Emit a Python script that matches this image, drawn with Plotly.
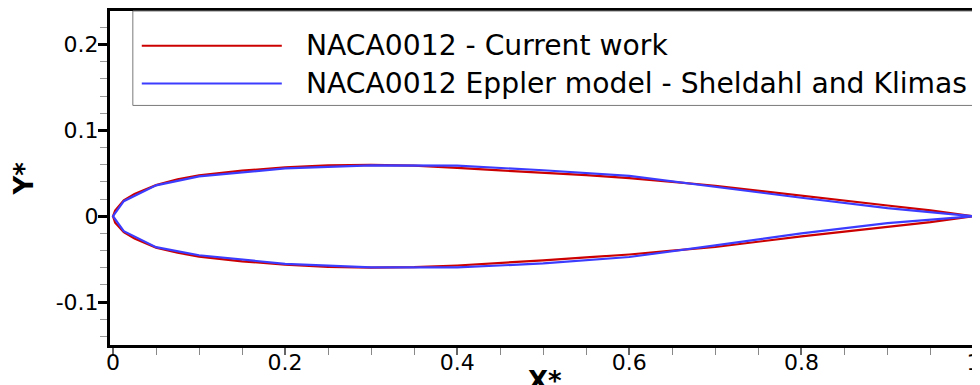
import plotly.graph_objects as go

# ---- data ----
red_x = [0.0, 0.0025, 0.0125, 0.025, 0.05, 0.075, 0.1, 0.15, 0.2, 0.25, 0.3, 0.35,
         0.4, 0.45, 0.5, 0.55, 0.6, 0.65, 0.7, 0.8, 0.9, 0.95, 1.0]
red_upper = [0.0, 0.0065, 0.0185, 0.026, 0.0362, 0.043, 0.0475, 0.053, 0.0568, 0.0591,
             0.0597, 0.0588, 0.0562, 0.0533, 0.0502, 0.0478, 0.0443, 0.0399, 0.0355,
             0.0236, 0.0125, 0.0068, 0.0]
red_lower = [0.0, -0.0075, -0.0185, -0.026, -0.0366, -0.0425, -0.047, -0.0525, -0.0565,
             -0.059, -0.0598, -0.0594, -0.0574, -0.0548, -0.0514, -0.048, -0.0446,
             -0.0401, -0.0359, -0.0235, -0.0125, -0.0068, 0.0]

blue_x = [0.0, 0.0125, 0.05, 0.1, 0.2, 0.3, 0.4, 0.5, 0.6, 0.7, 0.8, 0.9, 1.0]
blue_upper = [0.0, 0.0175, 0.036, 0.0463, 0.0556, 0.0592, 0.0588, 0.0535, 0.047, 0.034,
              0.0215, 0.0095, 0.0]
blue_lower = [0.0, -0.0175, -0.036, -0.0455, -0.0555, -0.0595, -0.0597, -0.055, -0.0475,
              -0.034, -0.020, -0.008, 0.0]

series_names = ["NACA0012 - Current work", "NACA0012 Eppler model - Sheldahl and Klimas"]
x_tick_vals = [0, 0.2, 0.4, 0.6, 0.8, 1.0]
x_tick_text = ["0", "0.2", "0.4", "0.6", "0.8", "1"]
y_tick_vals = [-0.1, 0, 0.1, 0.2]
y_tick_text = ["-0.1", "0", "0.1", "0.2"]

RED = "#cc0000"
BLUE = "#3c3cff"


def closed(xs, up, lo):
    return xs[::-1] + xs[1:], up[::-1] + lo[1:]


rx, ry = closed(red_x, red_upper, red_lower)
bx, by = closed(blue_x, blue_upper, blue_lower)

fig = go.Figure()
fig.add_trace(go.Scatter(x=rx, y=ry, mode="lines", name=series_names[0],
                         line=dict(color=RED, width=2.2), showlegend=False))
fig.add_trace(go.Scatter(x=bx, y=by, mode="lines", name=series_names[1],
                         line=dict(color=BLUE, width=2.2), showlegend=False))

# page is offset by the default 8px body margin
OFF = 8
W, H = 980 - OFF, 385 - OFF
ML, MR, MT, MB = 110 - OFF, 0, 9 - OFF, 385 - 345
PW, PH = W - ML - MR, H - MT - MB


def px(xpage):
    return (xpage - OFF - ML) / PW


def py(ypage):
    return (H - MB - (ypage - OFF)) / PH


# manual legend (long line samples as in the reference)
shapes = [
    dict(type="rect", xref="paper", yref="paper", x0=px(133), x1=px(1000), y0=py(104), y1=py(9),
         line=dict(color="#7a7a7a", width=1), fillcolor="white", layer="above"),
    dict(type="line", xref="paper", yref="paper", x0=px(142), x1=px(283), y0=py(44), y1=py(44),
         line=dict(color=RED, width=2), layer="above"),
    dict(type="line", xref="paper", yref="paper", x0=px(142), x1=px(283), y0=py(82), y1=py(82),
         line=dict(color=BLUE, width=2), layer="above"),
]
annotations = [
    dict(text=series_names[0], xref="paper", yref="paper", x=px(305), y=py(44),
         xanchor="left", yanchor="middle", showarrow=False,
         font=dict(family="DejaVu Sans", size=28.2, color="black")),
    dict(text=series_names[1], xref="paper", yref="paper", x=px(305), y=py(82),
         xanchor="left", yanchor="middle", showarrow=False,
         font=dict(family="DejaVu Sans", size=28.2, color="black")),
    dict(text="<b>X*</b>", xref="paper", yref="paper", x=px(548), y=py(381),
         xanchor="center", yanchor="middle", showarrow=False,
         font=dict(family="DejaVu Sans", size=26, color="black")),
    dict(text="<b>Y*</b>", xref="paper", yref="paper", x=px(23), y=py(178),
         xanchor="center", yanchor="middle", showarrow=False, textangle=-90,
         font=dict(family="DejaVu Sans", size=26, color="black")),
]

fig.update_layout(
    width=W, height=H,
    margin=dict(l=ML, r=MR, t=MT, b=MB, pad=0),
    paper_bgcolor="white", plot_bgcolor="white",
    showlegend=False,
    shapes=shapes, annotations=annotations,
    font=dict(family="DejaVu Sans", size=22, color="black"),
)
fig.update_xaxes(
    range=[-0.0035, 1.0006], showgrid=False, zeroline=False,
    showline=True, linewidth=3, linecolor="black", mirror=True,
    tickmode="array", tickvals=x_tick_vals, ticktext=x_tick_text,
    ticks="outside", ticklen=7, tickwidth=1.5, tickcolor="#666",
    ticklabelstandoff=-11, ticklabeloverflow="allow",
    tickfont=dict(family="DejaVu Sans", size=22, color="black"),
    minor=dict(tickmode="linear", tick0=0, dtick=0.05, ticks="outside",
               ticklen=7, tickwidth=1.2, tickcolor="#888", showgrid=False),
)
fig.update_yaxes(
    range=[-0.15, 0.239], showgrid=False, zeroline=False,
    showline=True, linewidth=3, linecolor="black", mirror=False,
    tickmode="array", tickvals=y_tick_vals, ticktext=y_tick_text,
    ticks="outside", ticklen=9, tickwidth=3, tickcolor="black",
    ticklabelstandoff=-5,
    tickfont=dict(family="DejaVu Sans", size=22, color="black"),
    minor=dict(tickmode="linear", tick0=0, dtick=0.02, ticks="outside",
               ticklen=7, tickwidth=1.2, tickcolor="#999", showgrid=False),
)

fig.write_html("out.html")
